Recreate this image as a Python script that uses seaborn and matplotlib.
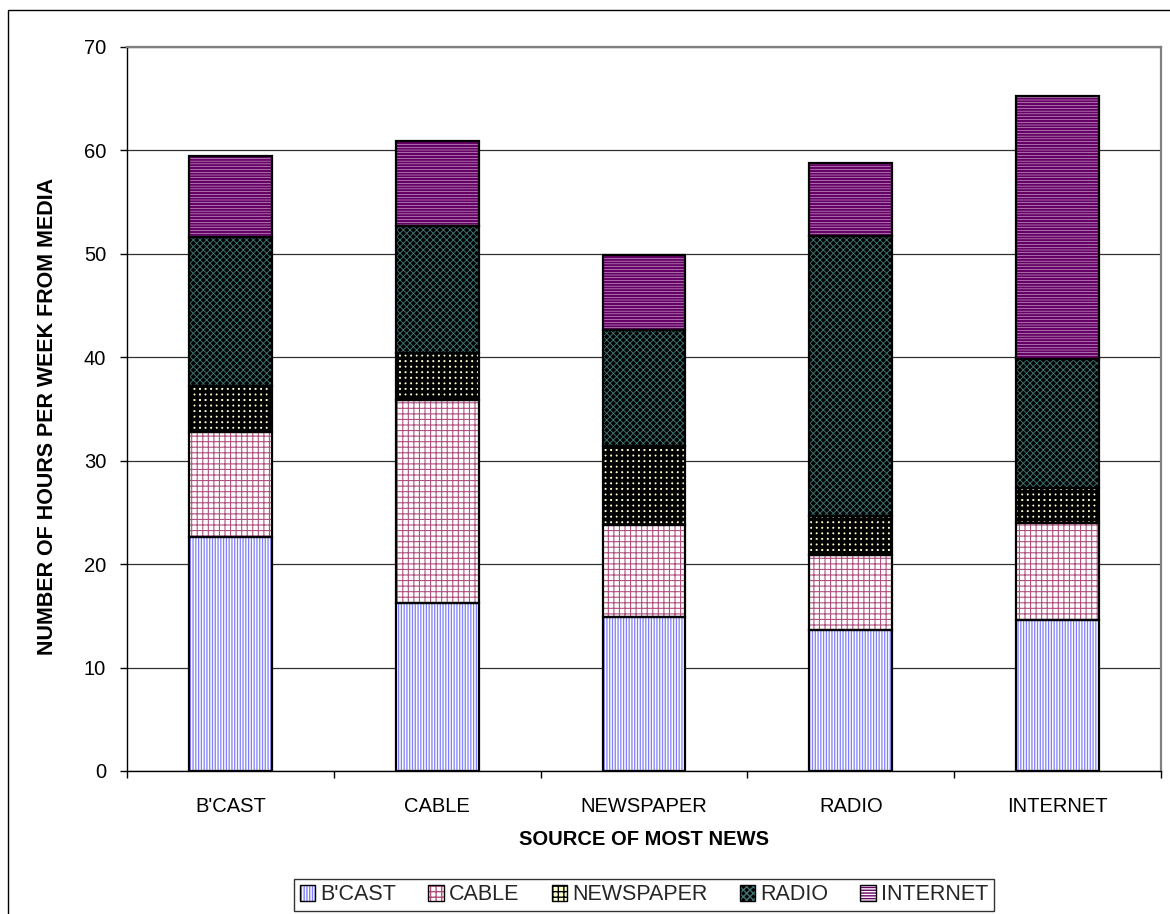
import matplotlib
matplotlib.use("Agg")
import matplotlib.pyplot as plt
import seaborn as sns
import numpy as np
from matplotlib.patches import Patch, Rectangle
from matplotlib.legend_handler import HandlerTuple

# ---------------- data ----------------
categories = ["B'CAST", "CABLE", "NEWSPAPER", "RADIO", "INTERNET"]
series_names = ["B'CAST", "CABLE", "NEWSPAPER", "RADIO", "INTERNET"]
bcast = [22.6, 16.2, 14.9, 13.6, 14.6]
cable = [10.2, 19.7, 8.9, 7.3, 9.4]
newspaper = [4.4, 4.5, 7.6, 3.8, 3.4]
radio = [14.4, 12.3, 11.2, 27.0, 12.4]
internet = [7.9, 8.2, 7.3, 7.1, 25.5]
y_ticks = [0, 10, 20, 30, 40, 50, 60, 70]
x_label = "SOURCE OF MOST NEWS"
y_label = "NUMBER OF HOURS PER WEEK FROM MEDIA"

series_values = [bcast, cable, newspaper, radio, internet]

# ---------------- styles ----------------
styles = [
    dict(face="white", hatch="||||||", hc="#7F7FFF", hlw=0.9),
    dict(face="white", hatch="+++", hc="#B0507F", hlw=0.8),
    dict(face="#FFFFCC", hatch="+++", hc="black", hlw=2.6),
    dict(face="black", hatch="xxxxx", hc="#3F7575", hlw=0.65),
    dict(face="white", hatch="------", hc="#660066", hlw=1.7),
]

sns.set_theme(style="white")
plt.rcParams['font.family'] = ['Liberation Sans', 'DejaVu Sans']

W, H = 1170, 914
fig = plt.figure(figsize=(W / 100, H / 100), dpi=100)
ax = fig.add_axes([127 / W, 1 - 771 / H, (1161 - 127) / W, (771 - 47) / H])

bottoms = np.zeros(len(categories))
hatched_patches = []
for vals, st in zip(series_values, styles):
    n_before = len(ax.patches)
    sns.barplot(x=categories, y=vals, bottom=bottoms.copy(), width=0.4,
                color=st["face"], saturation=1, ax=ax, order=categories,
                errorbar=None)
    new = ax.patches[n_before:]
    for p in new:
        p.set_facecolor(st["face"])
        p.set_hatch(st["hatch"])
        p.set_edgecolor(st["hc"])
        p.set_linewidth(0)
        if hasattr(p, "set_hatch_linewidth"):
            p.set_hatch_linewidth(st["hlw"])
        p.set_zorder(2)
        hatched_patches.append(p)
    bottoms = bottoms + np.array(vals)

# black outlines for every segment
for p in hatched_patches:
    outline = Rectangle(p.get_xy(), p.get_width(), p.get_height(),
                        fill=False, edgecolor="black", linewidth=1.6, zorder=3)
    ax.add_patch(outline)

ax.set_xlim(-0.5, len(categories) - 0.5)
ax.set_ylim(0, 70)
ax.set_yticks(y_ticks)
ax.set_yticklabels([str(t) for t in y_ticks], fontsize=14.5)
ax.set_xticks(range(len(categories)))
ax.set_xticklabels(categories, fontsize=14.5)
ax.set_xticks(np.arange(-0.5, len(categories), 1.0), minor=True)

ax.tick_params(axis="x", which="major", length=0, pad=19, colors="black")
ax.tick_params(axis="x", which="minor", length=5, width=1, direction="out",
               color="black", bottom=True)
ax.tick_params(axis="y", which="major", length=5, width=1, direction="out",
               pad=10, colors="black", left=True)

ax.yaxis.grid(True, color="#303030", linewidth=0.9, zorder=0)
ax.xaxis.grid(False)
ax.set_axisbelow(True)

for side in ["top", "right"]:
    ax.spines[side].set_color("#808080")
    ax.spines[side].set_linewidth(1.6)
for side in ["left", "bottom"]:
    ax.spines[side].set_color("black")
    ax.spines[side].set_linewidth(1.0)

ax.set_xlabel(x_label, fontsize=14.5, fontweight="bold", color="black")
ax.xaxis.set_label_coords(0.5, -(830 - 771) / (771 - 47))
ax.set_ylabel(y_label, fontsize=15.5, fontweight="bold", color="black")
ax.yaxis.set_label_coords(-(127 - 58) / (1161 - 127), 0.49)

# legend
handles = []
for st in styles:
    h1 = Patch(facecolor=st["face"], hatch=st["hatch"], edgecolor=st["hc"], linewidth=0)
    if hasattr(h1, "set_hatch_linewidth"):
        h1.set_hatch_linewidth(min(st["hlw"], 1.5))
    h2 = Patch(facecolor="none", edgecolor="black", linewidth=1.0)
    handles.append((h1, h2))
leg = fig.legend(handles, series_names, loc="center",
                 bbox_to_anchor=(644 / W, 1 - 895 / H), ncol=5,
                 handler_map={tuple: HandlerTuple(ndivide=1, pad=0)},
                 fontsize=15.5, frameon=True, fancybox=False,
                 edgecolor="black", handlelength=0.7, handleheight=0.7,
                 handletextpad=0.25, columnspacing=1.5, borderpad=0.25)
leg.get_frame().set_linewidth(1.0)

# outer chart-area border
fig.patches.append(Rectangle((8 / W, -0.1), 1.2, (1 - 10 / H) + 0.1,
                             transform=fig.transFigure, fill=False,
                             edgecolor="black", linewidth=1.0))

fig.savefig("out.png", dpi=100)
